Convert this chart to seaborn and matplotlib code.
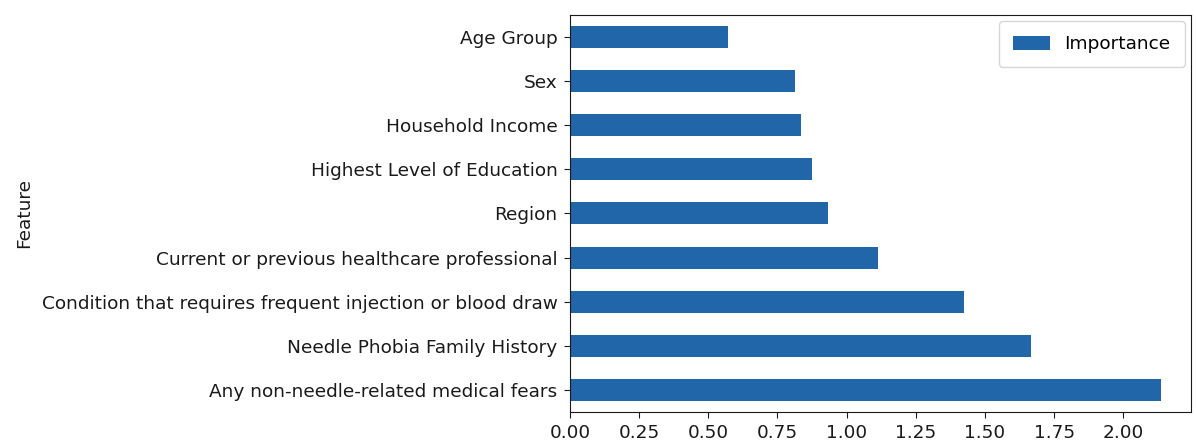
import matplotlib
matplotlib.use("Agg")
import matplotlib.pyplot as plt
import pandas as pd
import seaborn as sns

features = [
    "Age Group",
    "Sex",
    "Household Income",
    "Highest Level of Education",
    "Region",
    "Current or previous healthcare professional",
    "Condition that requires frequent injection or blood draw",
    "Needle Phobia Family History",
    "Any non-needle-related medical fears",
]
importance = [0.571, 0.814, 0.834, 0.875, 0.934, 1.115, 1.424, 1.666, 2.138]
x_ticks = [0.00, 0.25, 0.50, 0.75, 1.00, 1.25, 1.50, 1.75, 2.00]

df = pd.DataFrame({"Feature": features, "Importance": importance})

plt.rcParams["font.family"] = ["DejaVu Sans"]
plt.rcParams["font.size"] = 13.3

fig, ax = plt.subplots(figsize=(11.96, 4.41), dpi=100)
fig.subplots_adjust(left=0.4766, right=0.9958, top=0.966, bottom=0.066)

sns.barplot(data=df, x="Importance", y="Feature", order=features,
            color="#2066a8", saturation=1, width=0.5, label="Importance", ax=ax)

ax.set_xlim(0, max(importance) * 1.05)
ax.set_xticks(x_ticks)
ax.set_xticklabels([f"{t:.2f}" for t in x_ticks])
ax.set_xlabel("")
ax.set_ylabel("Feature", color="#1a1a1a", labelpad=6)
ax.tick_params(colors="#1a1a1a", labelcolor="#1a1a1a", length=4, pad=5)
for side in ax.spines.values():
    side.set_color("#1a1a1a")
ax.legend(loc="upper right", fontsize=13.3, borderaxespad=0.35,
          borderpad=0.75, handleheight=0.8)

fig.savefig("out.png", dpi=100)
